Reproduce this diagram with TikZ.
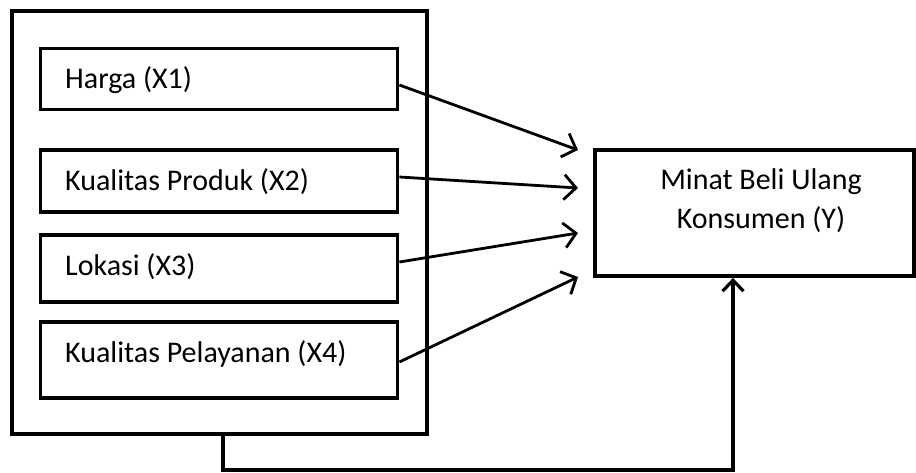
\documentclass[tikz,border=0pt]{standalone}
\usepackage{fontspec}
\setmainfont{Carlito}
\usetikzlibrary{arrows.meta,calc}
\begin{document}
\begin{tikzpicture}[x=1pt,y=-1pt,
  box/.style={draw, line width=3.8pt, inner sep=0pt, rectangle},
  lbl/.style={anchor=base west, inner sep=0pt, font=\fontsize{30}{36}\selectfont},
  clbl/.style={anchor=base, inner sep=0pt, font=\fontsize{30}{36}\selectfont},
  arr/.style={line width=2.8pt, -{Straight Barb[length=12pt,width=25pt,line width=2.8pt]}},
  conn/.style={line width=3.2pt, -{Straight Barb[length=11pt,width=21pt,line width=3.2pt]}}]
\useasboundingbox (0,0) rectangle (916,473);
% outer frame
\node[box, minimum width=415pt, minimum height=423pt] (outer) at (219.5,222.5) {};
% inner boxes
\node[box, minimum width=357pt, minimum height=61pt] (x1) at (219,79) {};
\node[box, minimum width=357pt, minimum height=62pt] (x2) at (219,181) {};
\node[box, minimum width=357pt, minimum height=67pt] (x3) at (219,268.5) {};
\node[box, minimum width=357pt, minimum height=76pt] (x4) at (219,360) {};
\node[lbl] (t1) at (65,89) {Harga (X1)};
\node[lbl] (t2) at (65,191) {Kualitas Produk (X2)};
\node[lbl] (t3) at (65,276) {Lokasi (X3)};
\node[lbl] (t4) at (65,362) {Kualitas Pelayanan (X4)};
% dependent box
\node[box, minimum width=319pt, minimum height=126pt] (y) at (754.5,213) {};
\node[clbl] (y1) at (761,190) {Minat Beli Ulang};
\node[clbl] (y2) at (761,229) {Konsumen (Y)};
% arrow targets
\coordinate (e1) at (578,150);
\coordinate (e2) at (578,188);
\coordinate (e3) at (578,233);
\coordinate (e4) at (578,277);
\draw[arr] ([yshift=-6pt]x1.east) -- (e1);
\draw[arr] ([yshift=4pt]x2.east) -- (e2);
\draw[arr] ([yshift=6.5pt]x3.east) -- (e3);
\draw[arr] ([yshift=-2pt]x4.east) -- (e4);
% bottom connector
\coordinate (c1) at (223,470);
\coordinate (c2) at (733,470);
\draw[conn] ([xshift=3.5pt]outer.south) -- (c1) -- (c2) -- ([xshift=-21.5pt]y.south);
\end{tikzpicture}
\end{document}
